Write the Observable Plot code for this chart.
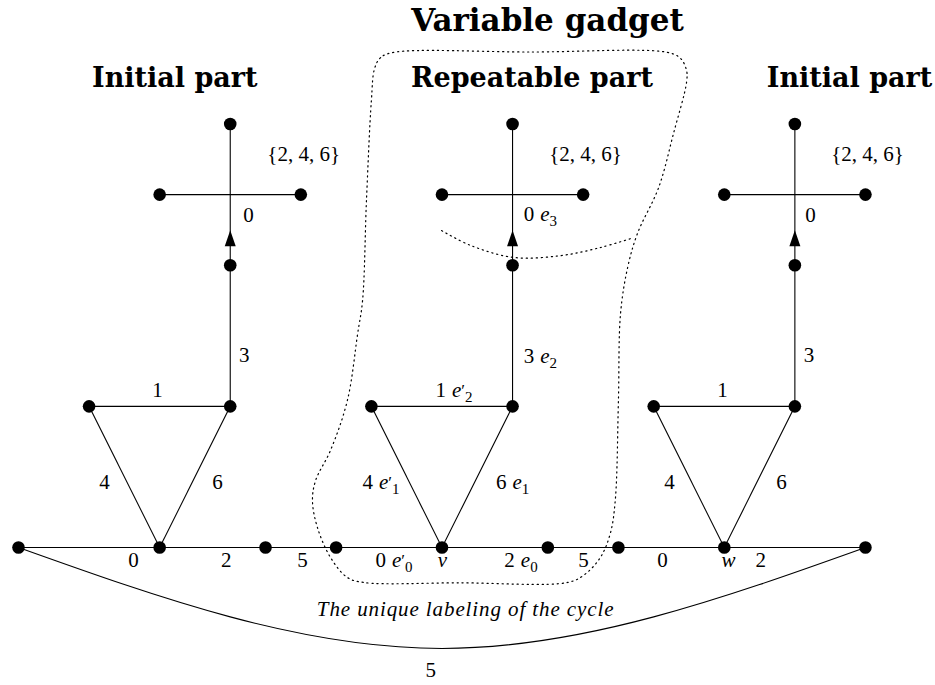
<!DOCTYPE html>
<html><head><meta charset="utf-8">
<script src="https://cdn.jsdelivr.net/npm/d3@7"></script>
<script src="https://cdn.jsdelivr.net/npm/@observablehq/plot@0.6"></script>
<style>html,body{margin:0;padding:0;background:#fff;}</style>
</head><body><div id="chart"></div>
<script>
// ---- data (layout units) ----
const cycleNodes = [0, 4, 7, 9, 12, 15, 17, 20, 24];
const gadgetOffsets = [0, 8, 16];
const gadgetNodes = [[2,4],[6,4],[6,8],[4,10],[8,10],[6,12]];
const gadgetEdges = [[4,0,2,4],[4,0,6,4],[2,4,6,4],[6,4,6,12],[4,10,8,10]];
const arrowTemplate = [[6, 8.76]];
const cycleArc = [{x:0,y:0},{x:12,y:-2.86},{x:24,y:0}];
const outline = [[10.63,14.03],[10.26,13.88],[10.09,13.57],[10.00,12.67],[9.86,9.83],[9.75,7.00],[9.61,6.06],[9.32,4.17],[8.84,2.75],[8.42,1.90],[8.33,1.33],[8.47,0.57],[8.84,-0.28],[9.32,-0.85],[9.78,-0.99],[12.5,-1.0],[15.56,-0.99],[16.01,-0.79],[16.49,-0.28],[16.77,0.40],[16.91,1.33],[17.00,4.17],[17.06,6.63],[17.26,7.93],[17.54,8.90],[18.14,10.20],[18.56,11.73],[18.93,13.18],[18.93,13.52],[18.76,13.86],[18.39,14.03],[14.5,14.04]];
const innerCut = [[11.99,8.98],[12.81,8.56],[14.03,8.22],[15.36,8.27],[16.49,8.50],[17.43,8.78]];
const edgeLabels = [
  {x:3.94,y:4.46,t:"1"},{x:6.40,y:5.44,t:"3"},{x:2.44,y:1.84,t:"4"},{x:5.64,y:1.84,t:"6"},
  {x:3.26,y:-0.37,t:"0"},{x:5.89,y:-0.37,t:"2"},{x:8.05,y:-0.37,t:"5"},{x:6.52,y:9.41,t:"0"},
  {x:12.34,y:4.46,t:"1 e'2"},{x:14.79,y:5.41,t:"3 e2"},{x:10.27,y:1.84,t:"4 e'1"},{x:14.00,y:1.84,t:"6 e1"},
  {x:10.64,y:-0.37,t:"0 e'0"},{x:14.24,y:-0.37,t:"2 e0"},{x:16.01,y:-0.37,t:"5"},{x:14.79,y:9.44,t:"0 e3"},
  {x:19.95,y:4.46,t:"1"},{x:22.40,y:5.44,t:"3"},{x:18.45,y:1.84,t:"4"},{x:21.62,y:1.84,t:"6"},
  {x:18.25,y:-0.37,t:"0"},{x:21.03,y:-0.37,t:"2"},{x:22.44,y:9.41,t:"0"},
  {x:11.68,y:-3.49,t:"5"}
];
const setLabels = [{x:8.08,y:11.15,t:"{2, 4, 6}"},{x:16.07,y:11.15,t:"{2, 4, 6}"},{x:24.06,y:11.15,t:"{2, 4, 6}"}];
const vertexNames = [{x:12.01,y:-0.37,t:"v"},{x:20.12,y:-0.37,t:"w"}];
const partTitles = [{x:4.43,y:13.29,t:"Initial part"},{x:14.55,y:13.29,t:"Repeatable part"},{x:23.55,y:13.29,t:"Initial part"}];
const mainTitle = [{x:14.99,y:14.93,t:"Variable gadget"}];
const caption = [{x:12.67,y:-1.76,t:"The unique labeling of the cycle"}];

// ---- derived tables ----
const nodes = cycleNodes.map(u => ({x:u, y:0}));
gadgetOffsets.forEach(o => gadgetNodes.forEach(([a,b]) => nodes.push({x:a+o, y:b})));
const edges = [{x1:cycleNodes[0], y1:0, x2:cycleNodes[cycleNodes.length-1], y2:0}];
gadgetOffsets.forEach(o => gadgetEdges.forEach(([a,b,c,d]) => edges.push({x1:a+o,y1:b,x2:c+o,y2:d})));
const arrows = [];
gadgetOffsets.forEach(o => arrowTemplate.forEach(([a,b]) => arrows.push({x:a+o,y:b})));
const outlinePts = outline.map(([x,y]) => ({x,y}));
const innerPts = innerCut.map(([x,y]) => ({x,y}));

const arrowSymbol = {draw(ctx){ ctx.moveTo(0,-8); ctx.lineTo(5.5,8); ctx.lineTo(-5.5,8); ctx.closePath(); }};
const serif = "Liberation Serif, Times New Roman, serif";
const boldSerif = "DejaVu Serif, serif";

const svg = Plot.plot({
  width: 935, height: 685, margin: 0,
  style: {background: "white"},
  x: {domain: [-0.51, 25.985], range: [0, 935], axis: null},
  y: {domain: [-3.91, 15.5], range: [685, 0], axis: null},
  marks: [
    Plot.line(outlinePts, {x:"x", y:"y", curve:"catmull-rom-closed", stroke:"black", strokeWidth:1.2, strokeDasharray:"1.2 3.8", strokeLinecap:"round"}),
    Plot.line(innerPts, {x:"x", y:"y", curve:"catmull-rom", stroke:"black", strokeWidth:1.2, strokeDasharray:"1.2 3.8", strokeLinecap:"round"}),
    Plot.link(edges, {x1:"x1", y1:"y1", x2:"x2", y2:"y2", stroke:"black", strokeWidth:1.1}),
    Plot.line(cycleArc, {x:"x", y:"y", curve:"natural", stroke:"black", strokeWidth:1.1}),
    Plot.dot(nodes, {x:"x", y:"y", r:6.3, fill:"black"}),
    Plot.dot(arrows, {x:"x", y:"y", symbol: arrowSymbol, fill:"black"}),
    Plot.text(edgeLabels, {x:"x", y:"y", text:"t", fontFamily: serif, fontSize: 21, fill:"black", ariaDescription:"edge-labels"}),
    Plot.text(setLabels, {x:"x", y:"y", text:"t", fontFamily: serif, fontSize: 21, fill:"black"}),
    Plot.text(vertexNames, {x:"x", y:"y", text:"t", fontFamily: serif, fontSize: 21, fontStyle:"italic", fill:"black"}),
    Plot.text(partTitles, {x:"x", y:"y", text:"t", fontFamily: boldSerif, fontSize: 27, fontWeight:"bold", fill:"black"}),
    Plot.text(mainTitle, {x:"x", y:"y", text:"t", fontFamily: boldSerif, fontSize: 31, fontWeight:"bold", fill:"black"}),
    Plot.text(caption, {x:"x", y:"y", text:"t", fontFamily: serif, fontSize: 21, fontStyle:"italic", fill:"black", ariaDescription:"caption"})
  ]
});
document.getElementById("chart").appendChild(svg);

// typeset labels of the form "N e'k" with italic e and subscript
d3.select(svg).selectAll('g[aria-description="edge-labels"] text').each(function(){
  const m = this.textContent.match(/^(\S+) e('?)(\d)$/);
  if (!m) return;
  const el = d3.select(this);
  el.text(null);
  el.append("tspan").text(m[1]);
  el.append("tspan").attr("dx", "6").attr("font-style", "italic").text("e");
  if (m[2]) el.append("tspan").attr("font-size", "17").attr("dy", "-1").text("\u2032");
  el.append("tspan").attr("font-size", "15").attr("dy", m[2] ? "6" : "5").text(m[3]);
});
d3.select(svg).selectAll('g[aria-description="caption"] text').attr("letter-spacing", "0.9");
</script>
</body></html>
